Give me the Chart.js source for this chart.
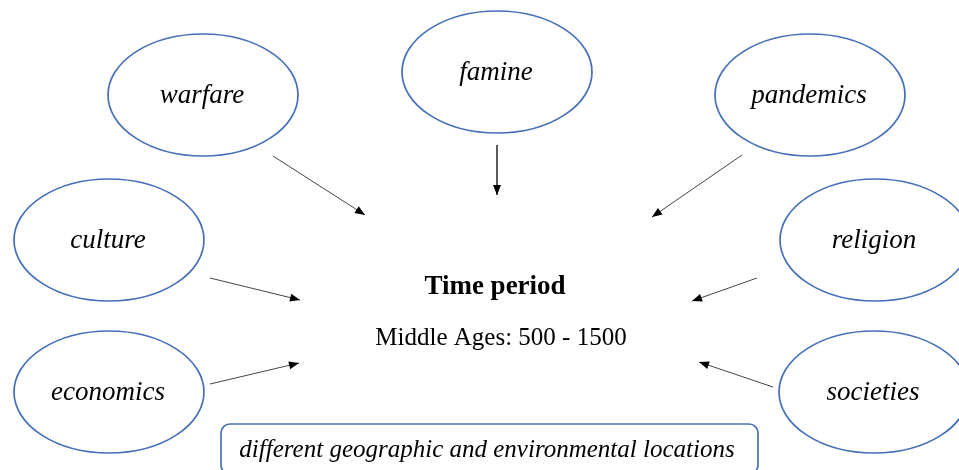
<!DOCTYPE html>
<html>
<head>
<meta charset="utf-8">
<script src="https://cdn.jsdelivr.net/npm/chart.js@4"></script>
<style>
  body { margin: 0; background: #fff; }
  #wrap { width: 959px; height: 470px; }
</style>
</head>
<body>
<div id="wrap"><canvas id="diagram" width="959" height="470"></canvas></div>
<script>
// Factor nodes (centres in diagram units)
const nodeLabels = ['warfare', 'famine', 'pandemics', 'culture', 'religion', 'economics', 'societies'];
const nodeX = [203, 497, 810, 109, 875, 109, 874];
const nodeY = [95, 72, 95, 240, 240, 392, 392];

// Arrows: start and end points
const arrowFromX = [273, 497, 742, 210, 757, 210, 773];
const arrowFromY = [156, 145, 155, 278, 278, 384, 387];
const arrowToX = [365, 497, 652, 300, 692, 299, 699];
const arrowToY = [215, 195, 217, 300, 301, 363, 362];

// Centre texts
const centreTitle = 'Time period';
const centreSubtitle = 'Middle Ages: 500 - 1500';
const footerText = 'different geographic and environmental locations';

const BLUE = '#4670b8';
const SERIF = '"Liberation Serif", "Times New Roman", serif';

// one line dataset per arrow
const arrowDatasets = arrowFromX.map((fx, i) => ({
  type: 'line',
  data: [{ x: fx, y: arrowFromY[i] }, { x: arrowToX[i], y: arrowToY[i] }],
  borderColor: '#444',
  borderWidth: 1,
  pointRadius: 0,
  fill: false,
}));

const diagramPlugin = {
  id: 'diagram',
  afterDatasetsDraw(chart) {
    const ctx = chart.ctx;
    const xs = chart.scales.x;
    const ys = chart.scales.y;
    const px = (v) => xs.getPixelForValue(v);
    const py = (v) => ys.getPixelForValue(v);
    const rx = px(95) - px(0);
    const ry = Math.abs(py(61) - py(0));

    ctx.save();

    // arrowheads
    ctx.fillStyle = '#000';
    arrowFromX.forEach((fx, i) => {
      const x1 = px(fx), y1 = py(arrowFromY[i]);
      const x2 = px(arrowToX[i]), y2 = py(arrowToY[i]);
      const a = Math.atan2(y2 - y1, x2 - x1);
      const len = 10, half = 4;
      ctx.beginPath();
      ctx.moveTo(x2, y2);
      ctx.lineTo(x2 - len * Math.cos(a) + half * Math.sin(a), y2 - len * Math.sin(a) - half * Math.cos(a));
      ctx.lineTo(x2 - len * Math.cos(a) - half * Math.sin(a), y2 - len * Math.sin(a) + half * Math.cos(a));
      ctx.closePath();
      ctx.fill();
    });

    // ellipses with labels
    ctx.strokeStyle = BLUE;
    ctx.lineWidth = 1.7;
    ctx.fillStyle = '#000';
    ctx.textAlign = 'center';
    ctx.textBaseline = 'alphabetic';
    ctx.font = 'italic 27px ' + SERIF;
    nodeLabels.forEach((label, i) => {
      const cx = px(nodeX[i]), cy = py(nodeY[i]);
      ctx.beginPath();
      ctx.ellipse(cx, cy, rx, ry, 0, 0, Math.PI * 2);
      ctx.stroke();
      ctx.fillText(label, cx - 1, cy + 8);
    });

    // centre text
    ctx.font = 'bold 27px ' + SERIF;
    ctx.fillText(centreTitle, px(495), py(294));
    ctx.font = '25px ' + SERIF;
    ctx.fillText(centreSubtitle, px(501), py(345));

    // footer box
    const bx = px(221), by = py(424), bw = px(758) - bx, bh = py(474) - by;
    ctx.beginPath();
    ctx.roundRect(bx, by, bw, bh, 9);
    ctx.stroke();
    ctx.font = 'italic 25px ' + SERIF;
    ctx.fillText(footerText, px(487), py(457));

    ctx.restore();
  },
};

new Chart(document.getElementById('diagram'), {
  type: 'scatter',
  data: { datasets: arrowDatasets },
  options: {
    responsive: false,
    animation: false,
    events: [],
    layout: { padding: 0 },
    plugins: { legend: { display: false }, tooltip: { enabled: false } },
    scales: {
      x: { type: 'linear', min: 0, max: 959, display: false },
      y: { type: 'linear', min: 0, max: 470, reverse: true, display: false },
    },
  },
  plugins: [diagramPlugin],
});
</script>
</body>
</html>
